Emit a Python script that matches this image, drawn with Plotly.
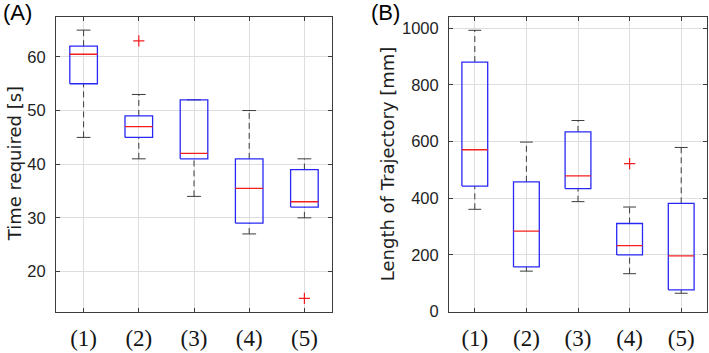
import plotly.graph_objects as go

# ---------------- data ----------------
categories = ["(1)", "(2)", "(3)", "(4)", "(5)"]
positions = [1, 2, 3, 4, 5]

# Panel A: Time required [s]
a_lower = [45, 41, 34, 27, 30]
a_q1 = [55, 45, 41, 29, 32]
a_median = [60.5, 47, 42, 35.5, 33]
a_q3 = [62, 49, 52, 41, 39]
a_upper = [65, 53, 52, 50, 41]
a_out_x = [2, 5]
a_out_y = [63, 15]

# Panel B: Length of Trajectory [mm]
b_lower = [361, 143, 388, 134, 65]
b_q1 = [443, 158, 434, 200, 77]
b_median = [571, 284, 479, 233, 197]
b_q3 = [880, 458, 634, 311, 382]
b_upper = [992, 598, 674, 369, 579]
b_out_x = [4]
b_out_y = [522]

a_yticks = [20, 30, 40, 50, 60]
b_yticks = [0, 200, 400, 600, 800, 1000]

# ---------------- styling ----------------
BOX_HALF = 0.25
CAP_HALF = 0.125
BLUE = "rgb(40,40,245)"
RED = "rgb(245,30,30)"
WHISK = "rgb(60,60,60)"
AXIS = "rgb(60,60,60)"
GRID = "rgb(222,222,222)"

fig = go.Figure()


def add_boxes(lo, q1, med, q3, hi, ox, oy, xa, ya):
    # whiskers (dashed)
    wx, wy = [], []
    for p, l, a, b, h in zip(positions, lo, q1, q3, hi):
        wx += [p, p, None, p, p, None]
        wy += [b, h, None, l, a, None]
    fig.add_trace(go.Scatter(x=wx, y=wy, mode="lines", xaxis=xa, yaxis=ya,
                             line=dict(color=WHISK, width=1, dash="6px,4px"),
                             hoverinfo="skip", showlegend=False))
    # caps
    cx, cy = [], []
    for p, l, h in zip(positions, lo, hi):
        cx += [p - CAP_HALF, p + CAP_HALF, None, p - CAP_HALF, p + CAP_HALF, None]
        cy += [h, h, None, l, l, None]
    fig.add_trace(go.Scatter(x=cx, y=cy, mode="lines", xaxis=xa, yaxis=ya,
                             line=dict(color=WHISK, width=1),
                             hoverinfo="skip", showlegend=False))
    # boxes
    bx, by = [], []
    for p, a, b in zip(positions, q1, q3):
        bx += [p - BOX_HALF, p + BOX_HALF, p + BOX_HALF, p - BOX_HALF, p - BOX_HALF, None]
        by += [a, a, b, b, a, None]
    fig.add_trace(go.Scatter(x=bx, y=by, mode="lines", xaxis=xa, yaxis=ya,
                             line=dict(color=BLUE, width=1.3),
                             hoverinfo="skip", showlegend=False))
    # medians
    mx, my = [], []
    for p, m in zip(positions, med):
        mx += [p - BOX_HALF, p + BOX_HALF, None]
        my += [m, m, None]
    fig.add_trace(go.Scatter(x=mx, y=my, mode="lines", xaxis=xa, yaxis=ya,
                             line=dict(color=RED, width=1.3),
                             hoverinfo="skip", showlegend=False))
    # outliers
    fig.add_trace(go.Scatter(x=ox, y=oy, mode="markers", xaxis=xa, yaxis=ya,
                             marker=dict(symbol="cross-thin", size=8,
                                         line=dict(color=RED, width=1.2)),
                             hoverinfo="skip", showlegend=False))


add_boxes(a_lower, a_q1, a_median, a_q3, a_upper, a_out_x, a_out_y, "x", "y")
add_boxes(b_lower, b_q1, b_median, b_q3, b_upper, b_out_x, b_out_y, "x2", "y2")

W, H = 709, 353
y_dom = [1 - 311.7 / H, 1 - 16.7 / H]

tick_font_y = dict(family="Liberation Sans Narrow, Arial Narrow, Liberation Sans, Arial",
                   size=16.5, color="rgb(30,30,30)")
tick_font_x = dict(family="Liberation Serif, Times New Roman, serif", size=23, color="rgb(20,20,20)")

common_x = dict(range=[0.5, 5.5], tickvals=positions, ticktext=categories,
                showgrid=True, gridcolor=GRID, gridwidth=1,
                showline=True, linecolor=AXIS, linewidth=1, mirror="allticks",
                ticks="inside", ticklen=4, tickcolor=AXIS, automargin=False,
                tickfont=tick_font_x, ticklabelstandoff=6, zeroline=False, fixedrange=True)
common_y = dict(showgrid=True, gridcolor=GRID, gridwidth=1,
                showline=True, linecolor=AXIS, linewidth=1, mirror="allticks",
                ticks="inside", ticklen=4, tickcolor=AXIS, automargin=False,
                tickfont=tick_font_y, ticklabelstandoff=6, zeroline=False, fixedrange=True)

fig.update_layout(
    width=W, height=H, autosize=False,
    margin=dict(l=0, r=0, t=0, b=0, pad=0),
    paper_bgcolor="white", plot_bgcolor="white",
    xaxis=dict(domain=[56 / W, 332 / W], anchor="y", **common_x),
    yaxis=dict(domain=y_dom, anchor="x", range=[12.5, 67.5], tickvals=a_yticks, **common_y),
    xaxis2=dict(domain=[449 / W, 707 / W], anchor="y2", **common_x),
    yaxis2=dict(domain=y_dom, anchor="x2", range=[0, 1040], tickvals=b_yticks, **common_y),
    showlegend=False,
)

title_font = dict(family="DejaVu Sans, Verdana, sans-serif", size=18, color="rgb(30,30,30)")
fig.add_annotation(text="Time required [s]", textangle=-90, xref="paper", yref="paper",
                   x=14 / W, y=(y_dom[0] + y_dom[1]) / 2, showarrow=False,
                   xanchor="center", yanchor="middle", font=title_font)
fig.add_annotation(text="Length of Trajectory [mm]", textangle=-90, xref="paper", yref="paper",
                   x=387 / W, y=(y_dom[0] + y_dom[1]) / 2, showarrow=False,
                   xanchor="center", yanchor="middle", font=title_font)

label_font = dict(family="Liberation Sans, Arial, sans-serif", size=22, color="black")
fig.add_annotation(text="(A)", xref="paper", yref="paper", x=1 / W, y=1 + 2 / H,
                   xanchor="left", yanchor="top", showarrow=False, font=label_font)
fig.add_annotation(text="(B)", xref="paper", yref="paper", x=369 / W, y=1 + 2 / H,
                   xanchor="left", yanchor="top", showarrow=False, font=label_font)

fig.write_html("out.html", config={"displayModeBar": False},
               post_script="document.body.style.margin='0';document.body.style.overflow='hidden';")
